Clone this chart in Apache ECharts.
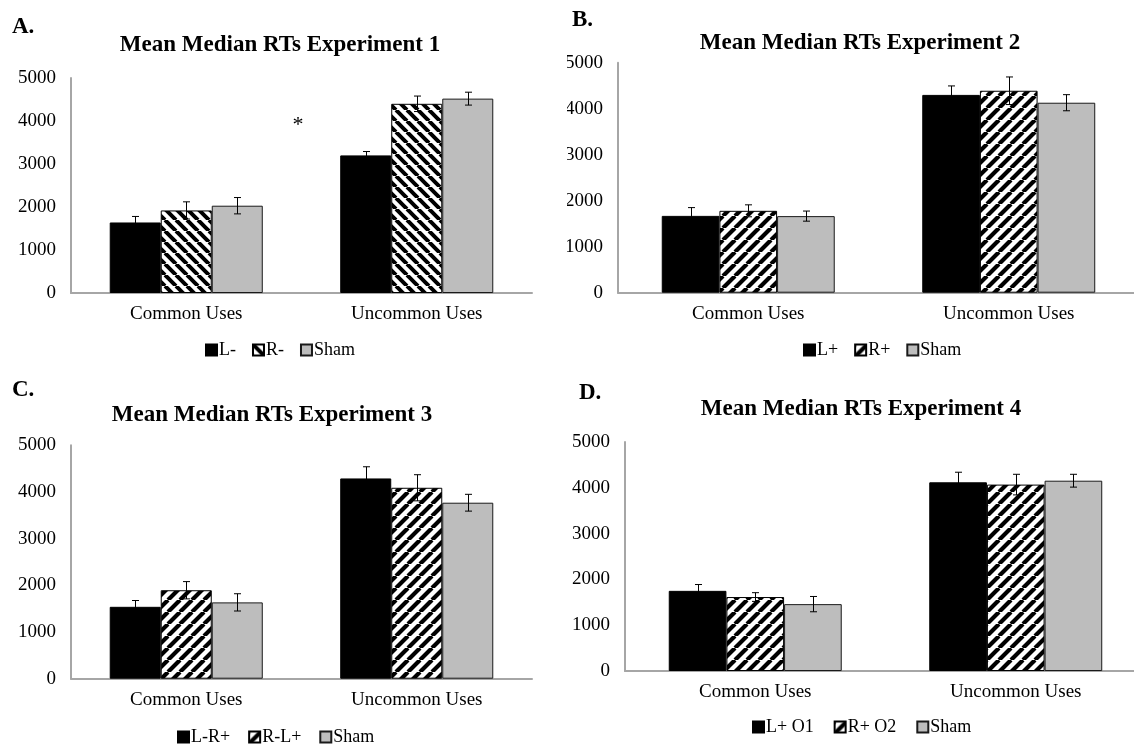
<!DOCTYPE html>
<html><head><meta charset="utf-8">
<script src="https://cdn.jsdelivr.net/npm/echarts@6/dist/echarts.min.js"></script>
<style>
html,body{margin:0;padding:0;background:#fff;}
#wrap{position:relative;width:1134px;height:744px;overflow:hidden;background:#fff;}
.p{position:absolute;width:567px;height:372px;}
</style></head>
<body><div id="wrap">
<div class="p" id="pA" style="left:0;top:0"></div>
<div class="p" id="pB" style="left:567px;top:0"></div>
<div class="p" id="pC" style="left:0;top:372px"></div>
<div class="p" id="pD" style="left:567px;top:372px"></div>
</div>
<script>
const categories = ['Common Uses', 'Uncommon Uses'];
const yTicks = [0, 1000, 2000, 3000, 4000, 5000];

// Experiment 1
const exp1Names = ['L-', 'R-', 'Sham'];
const exp1L = [1640, 3200];
const exp1R = [1920, 4400];
const exp1Sham = [2030, 4520];
const exp1LErr = [140, 90];
const exp1RErr = [200, 180];
const exp1ShamErr = [190, 150];

// Experiment 2
const exp2Names = ['L+', 'R+', 'Sham'];
const exp2L = [1670, 4300];
const exp2R = [1780, 4390];
const exp2Sham = [1665, 4130];
const exp2LErr = [180, 195];
const exp2RErr = [130, 300];
const exp2ShamErr = [110, 175];

// Experiment 3
const exp3Names = ['L-R+', 'R-L+', 'Sham'];
const exp3L = [1540, 4290];
const exp3R = [1895, 4090];
const exp3Sham = [1635, 3770];
const exp3LErr = [135, 250];
const exp3RErr = [185, 280];
const exp3ShamErr = [185, 180];

// Experiment 4
const exp4Names = ['L+ O1', 'R+ O2', 'Sham'];
const exp4L = [1750, 4120];
const exp4R = [1615, 4070];
const exp4Sham = [1460, 4155];
const exp4LErr = [138, 220];
const exp4RErr = [95, 225];
const exp4ShamErr = [167, 140];

const SERIF = "'Liberation Serif','Times New Roman',serif";
const GAP = 0.336;

function hatch(dir, period, lw) {
  const c = document.createElement('canvas');
  c.width = period; c.height = period;
  const ctx = c.getContext('2d');
  ctx.fillStyle = '#fff'; ctx.fillRect(0, 0, period, period);
  ctx.strokeStyle = '#000'; ctx.lineWidth = lw;
  ctx.beginPath();
  for (let k = -1; k <= 1; k++) {
    if (dir === '/') { ctx.moveTo(k * period, period); ctx.lineTo(k * period + period, 0); }
    else { ctx.moveTo(k * period, 0); ctx.lineTo(k * period + period, period); }
  }
  ctx.stroke();
  return c;
}

function build(id, cfg) {
  const chart = echarts.init(document.getElementById(id), null, {renderer: 'canvas'});
  const fills = [
    {color: '#000', borderColor: '#000', borderWidth: 1},
    {color: {image: hatch(cfg.dir, cfg.period, cfg.lw), repeat: 'repeat'}, borderColor: '#000', borderWidth: 1},
    {color: '#bdbdbd', borderColor: '#1a1a1a', borderWidth: 1}
  ];
  const series = [];
  cfg.values.forEach((vals, i) => {
    series.push({
      type: 'bar', name: cfg.names[i], data: vals,
      barGap: '0%', barCategoryGap: (GAP * 100) + '%',
      itemStyle: fills[i], emphasis: {disabled: true}, silent: true
    });
  });
  cfg.values.forEach((vals, i) => {
    const errs = cfg.errs[i];
    series.push({
      type: 'custom', silent: true, z: 10,
      data: vals.map((v, j) => [j, v, errs[j]]),
      renderItem: (params, api) => {
        const j = api.value(0), v = api.value(1), e = api.value(2);
        const band = api.size([1, 0])[0];
        const bw = band * (1 - GAP) / 3;
        const x = Math.round(api.coord([j, v])[0] + (i - 1) * bw) + 0.5;
        const yt = api.coord([j, v + e])[1];
        const yb = api.coord([j, v - e])[1];
        const st = {stroke: '#000', lineWidth: 1};
        return {type: 'group', children: [
          {type: 'line', shape: {x1: x, y1: yt, x2: x, y2: yb}, style: st},
          {type: 'line', shape: {x1: x - 3.5, y1: yt, x2: x + 3.5, y2: yt}, style: st},
          {type: 'line', shape: {x1: x - 3.5, y1: yb, x2: x + 3.5, y2: yb}, style: st}
        ]};
      }
    });
  });
  const graphics = [
    {type: 'text', x: cfg.letter[1], y: cfg.letter[2],
     style: {text: cfg.letter[0], font: 'bold 23px ' + SERIF, fill: '#000', align: 'left', verticalAlign: 'middle'}},
    {type: 'text', x: cfg.titlePos[0], y: cfg.titlePos[1],
     style: {text: cfg.title, font: 'bold 23px ' + SERIF, fill: '#000', align: 'center', verticalAlign: 'middle'}}
  ];
  if (cfg.extra) graphics.push(cfg.extra);
  chart.setOption({
    animation: false,
    backgroundColor: '#fff',
    grid: {left: cfg.grid[0], top: cfg.grid[1], width: cfg.grid[2], height: cfg.grid[3], containLabel: false, outerBoundsMode: 'none'},
    legend: {
      data: cfg.names, left: cfg.legend[0], top: cfg.legend[1], padding: 0,
      icon: 'rect', itemWidth: 11, itemHeight: 11, itemGap: cfg.legend[2],
      textStyle: {fontFamily: SERIF, fontSize: 18, color: '#000', padding: [0, 0, 0, -3]},
      selectedMode: false
    },
    xAxis: {
      type: 'category', data: categories,
      axisLine: {lineStyle: {color: '#a6a6a6', width: 2}},
      axisTick: {show: false},
      axisLabel: {fontFamily: SERIF, fontSize: 19, color: '#000', margin: 12}
    },
    yAxis: {
      type: 'value', min: 0, max: 5000, interval: 1000,
      axisLine: {show: true, lineStyle: {color: '#a6a6a6', width: 2}},
      axisTick: {show: false},
      splitLine: {show: false},
      axisLabel: {fontFamily: SERIF, fontSize: 19, color: '#000', margin: 15,
        formatter: v => yTicks.includes(v) ? String(v) : ''}
    },
    graphic: graphics,
    series: series
  });
}

build('pA', {
  letter: ['A.', 12, 27], title: 'Mean Median RTs Experiment 1', titlePos: [280, 45],
  grid: [71, 78, 461, 215], legend: [205, 341, 16],
  names: exp1Names, values: [exp1L, exp1R, exp1Sham], errs: [exp1LErr, exp1RErr, exp1ShamErr],
  dir: '\\', period: 11, lw: 4,
  extra: {type: 'text', x: 298, y: 125, style: {text: '*', font: '22px ' + SERIF, fill: '#000', align: 'center', verticalAlign: 'middle'}}
});
build('pB', {
  letter: ['B.', 5, 20], title: 'Mean Median RTs Experiment 2', titlePos: [293, 43],
  grid: [51, 62.7, 521, 230], legend: [236, 341, 16],
  names: exp2Names, values: [exp2L, exp2R, exp2Sham], errs: [exp2LErr, exp2RErr, exp2ShamErr],
  dir: '/', period: 12, lw: 4.2
});
build('pC', {
  letter: ['C.', 12, 18], title: 'Mean Median RTs Experiment 3', titlePos: [272, 43],
  grid: [71, 73.3, 461, 233.4], legend: [177, 356, 18],
  names: exp3Names, values: [exp3L, exp3R, exp3Sham], errs: [exp3LErr, exp3RErr, exp3ShamErr],
  dir: '/', period: 12, lw: 4.2
});
build('pD', {
  letter: ['D.', 12, 21], title: 'Mean Median RTs Experiment 4', titlePos: [294, 37],
  grid: [58, 70, 521, 229], legend: [185, 346, 20],
  names: exp4Names, values: [exp4L, exp4R, exp4Sham], errs: [exp4LErr, exp4RErr, exp4ShamErr],
  dir: '/', period: 12, lw: 4.2
});
</script>
</body></html>
